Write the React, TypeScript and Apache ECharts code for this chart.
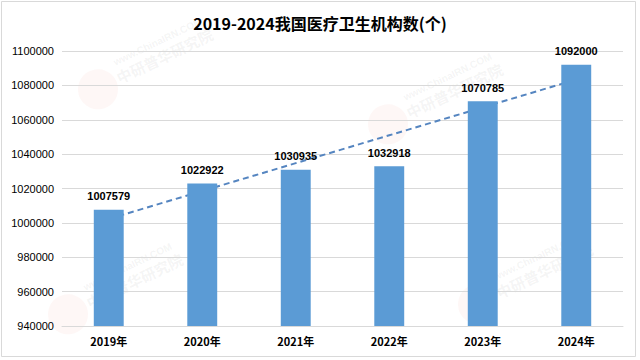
import React, { useEffect, useRef } from "react";
import * as echarts from "echarts";

const title = "2019-2024我国医疗卫生机构数(个)";
const categories = ["2019年", "2020年", "2021年", "2022年", "2023年", "2024年"];
const institutions = [1007579, 1022922, 1030935, 1032918, 1070785, 1092000];
const yMin = 940000;
const yMax = 1100000;
const yStep = 20000;

function linearTrend(values: number[]): number[] {
  const n = values.length;
  const mx = (n - 1) / 2;
  const my = values.reduce((a, b) => a + b, 0) / n;
  let num = 0;
  let den = 0;
  values.forEach((v, i) => {
    num += (i - mx) * (v - my);
    den += (i - mx) * (i - mx);
  });
  const slope = num / den;
  return values.map((_, i) => my + slope * (i - mx));
}

function watermark(x: number, y: number) {
  return {
    type: "group",
    x,
    y,
    rotation: Math.PI / 7,
    silent: true,
    z: -1,
    children: [
      {
        type: "circle",
        shape: { cx: -8, cy: 12, r: 20 },
        style: { fill: "rgba(235,120,110,0.06)" },
      },
      {
        type: "text",
        x: 18,
        y: -10,
        style: {
          text: "www.ChinaIRN.COM",
          fill: "rgba(150,150,150,0.10)",
          font: "bold 10px Arial",
        },
      },
      {
        type: "text",
        x: 14,
        y: 3,
        style: {
          text: "中研普华研究院",
          fill: "rgba(150,150,150,0.10)",
          font: "bold 15px 'Noto Sans CJK SC'",
        },
      },
    ],
  };
}

export default function App() {
  const ref = useRef<HTMLDivElement>(null);
  useEffect(() => {
    document.body.style.margin = "0";
    if (!ref.current) return;
    const chart = echarts.init(ref.current, null, { renderer: "svg" });
    const trend = linearTrend(institutions);
    chart.setOption({
      animation: false,
      backgroundColor: "#ffffff",
      title: {
        text: title,
        left: "center",
        top: 10,
        textStyle: {
          fontSize: 16,
          fontWeight: "bold",
          color: "#000000",
          fontFamily: "'Noto Sans CJK SC', sans-serif",
        },
      },
      grid: { left: 62, right: 17, top: 51, bottom: 34, containLabel: false },
      xAxis: {
        type: "category",
        data: categories,
        axisTick: { show: false },
        axisLine: { show: true, lineStyle: { color: "#d9d9d9" } },
        axisLabel: {
          fontSize: 11,
          fontWeight: "bold",
          color: "#000000",
          margin: 9,
          fontFamily: "'Noto Sans CJK SC', sans-serif",
        },
      },
      yAxis: {
        type: "value",
        min: yMin,
        max: yMax,
        interval: yStep,
        axisLine: { show: false },
        axisTick: { show: false },
        splitLine: { lineStyle: { color: "#d9d9d9" } },
        axisLabel: {
          fontSize: 11,
          color: "#000000",
          margin: 8,
          formatter: (v: number) => String(v),
          fontFamily: "'Liberation Sans', Arial, sans-serif",
        },
      },
      series: [
        {
          type: "line",
          data: trend,
          symbol: "none",
          lineStyle: { color: "#5585c0", width: 2, type: [6, 4] },
          z: 1,
          silent: true,
        },
        {
          type: "bar",
          data: institutions,
          barWidth: "32%",
          itemStyle: { color: "#5B9BD5" },
          label: {
            show: true,
            position: "top",
            distance: 8,
            fontSize: 11,
            fontWeight: "bold",
            color: "#000000",
            fontFamily: "'Liberation Sans', Arial, sans-serif",
          },
          z: 3,
        },
      ],
      graphic: [
        watermark(100, 75),
        watermark(390, 110),
        watermark(70, 300),
        watermark(480, 290),
        {
          type: "rect",
          shape: { x: 1.5, y: 1.5, width: 634, height: 355 },
          style: { fill: "none", stroke: "#d9d9d9", lineWidth: 1 },
          silent: true,
        },
      ],
    });
    return () => chart.dispose();
  }, []);
  return <div ref={ref} style={{ width: 640, height: 360 }} />;
}
